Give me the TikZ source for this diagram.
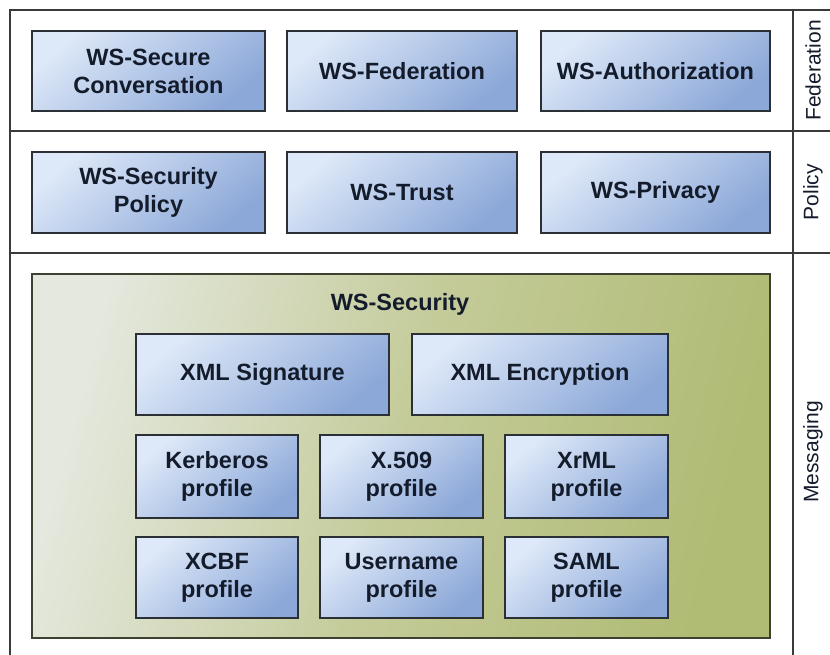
\documentclass[tikz,border=0pt]{standalone}
\usepackage{fontspec}
\setmainfont{Liberation Sans}
\definecolor{framegray}{HTML}{3A3A3A}
\definecolor{boxedge}{HTML}{2B2F36}
\definecolor{bluelight}{HTML}{DDE8F8}
\definecolor{bluedark}{HTML}{8CA8D8}
\definecolor{textdark}{HTML}{141C2C}
\definecolor{greenlight}{HTML}{E4E8DE}
\definecolor{greenmid}{HTML}{C4CB99}
\definecolor{greendark}{HTML}{B0BB74}
\definecolor{greenedge}{HTML}{3D4230}
\begin{document}
\begin{tikzpicture}[x=1pt,y=-1pt,
  frameline/.style={draw=framegray,line width=1.6pt},
  bluebox/.style={draw=boxedge,line width=1.8pt,top color=bluelight,bottom color=bluedark,
    shading angle=40,text=textdark,align=center,inner sep=0pt,
    font=\bfseries\fontsize{23.5}{28}\selectfont},
  greenbox/.style={draw=greenedge,line width=1.8pt,top color=greenlight,bottom color=greendark,
    middle color=greenmid,shading angle=75,inner sep=0pt},
  layerlabel/.style={rotate=90,text=textdark,font=\fontsize{21}{24}\selectfont},
  titletext/.style={text=textdark,font=\bfseries\fontsize{23.5}{28}\selectfont}]
\useasboundingbox[fill=white] (0,0) rectangle (830,655);

% frame of the three layers and the label column
\draw[frameline] (830,10) -- (10,10) -- (10,655);
\draw[frameline] (793,10) -- (793,655);
\draw[frameline] (10,131) -- (830,131);
\draw[frameline] (10,253) -- (830,253);

% layer names
\node[layerlabel] (lfed) at (813,70.5) {Federation};
\node[layerlabel] (lpol) at (813,192) {Policy};
\node[layerlabel] (lmsg) at (813,452) {Messaging};

% federation layer
\node[bluebox,minimum width=233pt,minimum height=80pt] (wsconv) at (148.5,71) {WS-Secure\\Conversation};
\node[bluebox,minimum width=230pt,minimum height=80pt] (wsfed) at (402,71) {WS-Federation};
\node[bluebox,minimum width=229pt,minimum height=80pt] (wsauth) at (655.5,71) {WS-Authorization};

% policy layer
\node[bluebox,minimum width=233pt,minimum height=81pt] (wspol) at (148.5,192.5) {WS-Security\\Policy};
\node[bluebox,minimum width=230pt,minimum height=81pt] (wstrust) at (402,192.5) {WS-Trust};
\node[bluebox,minimum width=229pt,minimum height=81pt] (wspriv) at (655.5,192.5) {WS-Privacy};

% messaging layer
\node[greenbox,minimum width=738pt,minimum height=364pt] (wssec) at (401,456) {};
\node[titletext] (wssectitle) at (400,304) {WS-Security};

\node[bluebox,minimum width=253pt,minimum height=81pt] (xmlsig) at (262.5,374.5) {XML Signature};
\node[bluebox,minimum width=256pt,minimum height=81pt] (xmlenc) at (540,374.5) {XML Encryption};

\node[bluebox,minimum width=162pt,minimum height=83pt] (kerb) at (217,476.5) {Kerberos\\profile};
\node[bluebox,minimum width=163pt,minimum height=83pt] (x509) at (401.5,476.5) {X.509\\profile};
\node[bluebox,minimum width=163pt,minimum height=83pt] (xrml) at (586.5,476.5) {XrML\\profile};

\node[bluebox,minimum width=162pt,minimum height=81pt] (xcbf) at (217,577.5) {XCBF\\profile};
\node[bluebox,minimum width=163pt,minimum height=81pt] (user) at (401.5,577.5) {Username\\profile};
\node[bluebox,minimum width=163pt,minimum height=81pt] (saml) at (586.5,577.5) {SAML\\profile};
\end{tikzpicture}
\end{document}
